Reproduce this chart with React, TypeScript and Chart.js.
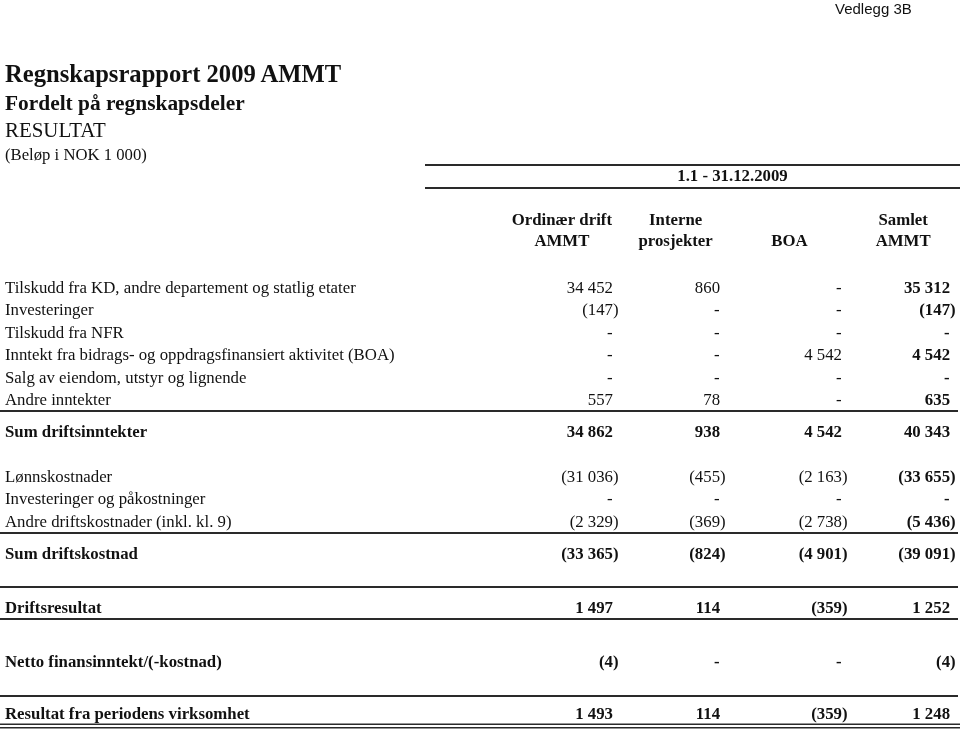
import React, { useEffect, useRef } from "react";
import { Chart, registerables } from "chart.js";

Chart.register(...registerables);

// ---------------- data ----------------
const APPENDIX = "Vedlegg 3B";
const REPORT_TITLE = "Regnskapsrapport 2009 AMMT";
const REPORT_SUBTITLE = "Fordelt på regnskapsdeler";
const STATEMENT_NAME = "RESULTAT";
const UNIT_NOTE = "(Beløp i NOK 1 000)";

const PERIOD_LABEL = "1.1 - 31.12.2009";
const COLUMN_HEADERS: string[][] = [
  ["Ordinær drift", "AMMT"],
  ["Interne", "prosjekter"],
  ["BOA"],
  ["Samlet", "AMMT"],
];

const ROW_LABELS: string[] = [
  "Tilskudd fra KD, andre departement og statlig etater",
  "Investeringer",
  "Tilskudd fra NFR",
  "Inntekt fra bidrags- og oppdragsfinansiert aktivitet (BOA)",
  "Salg av eiendom, utstyr og lignende",
  "Andre inntekter",
  "Sum driftsinntekter",
  "",
  "Lønnskostnader",
  "Investeringer og påkostninger",
  "Andre driftskostnader (inkl. kl. 9)",
  "Sum driftskostnad",
  "",
  "Driftsresultat",
  "",
  "Netto finansinntekt/(-kostnad)",
  "",
  "Resultat fra periodens virksomhet",
];

const ROW_KINDS: ("item" | "sum" | "blank")[] = [
  "item", "item", "item", "item", "item", "item", "sum", "blank",
  "item", "item", "item", "sum", "blank", "sum", "blank", "sum", "blank", "sum",
];

const ORDINAER_DRIFT: (number | null)[] = [
  34452, -147, 0, 0, 0, 557, 34862, null,
  -31036, 0, -2329, -33365, null, 1497, null, -4, null, 1493,
];
const INTERNE_PROSJEKTER: (number | null)[] = [
  860, 0, 0, 0, 0, 78, 938, null,
  -455, 0, -369, -824, null, 114, null, 0, null, 114,
];
const BOA_VALUES: (number | null)[] = [
  0, 0, 0, 4542, 0, 0, 4542, null,
  -2163, 0, -2738, -4901, null, -359, null, 0, null, -359,
];
const SAMLET_AMMT: (number | null)[] = [
  35312, -147, 0, 4542, 0, 635, 40343, null,
  -33655, 0, -5436, -39091, null, 1252, null, -4, null, 1248,
];
const COLUMN_VALUES = [ORDINAER_DRIFT, INTERNE_PROSJEKTER, BOA_VALUES, SAMLET_AMMT];

// ---------------- layout / style ----------------
const SERIF = '"Liberation Serif", "Times New Roman", serif';
const SANS = '"Liberation Sans", Arial, sans-serif';
const INK = "#111111";
const RULE = "#2a2a2a";
const W = 960;
const H = 731;
const FONT_SIZE = 16.8;
const AXIS_TOP = 165;
const HEADER_HEIGHT = 90.1;
const LABEL_COL_WIDTH = 500;
const ROW_HEIGHT = { item: 22.4, sum: 32, blank: 22.4 };
const TEXT_LIFT = 10.4;
const DOUBLE_BORDER_LIFT = 3;
const FIRST_ROW_GAP = 21.5;
const NUMBER_RIGHT_PAD = [51.1, 44.4, 52.6, 46.9];
const TOTAL_COLUMN = 3;
const HEADER_RULE_LEFT = 425;
const BODY_RULE_RIGHT = 958;
const TITLE_LINE_HEIGHT = 1.2;
const TITLE_PAD = { top: 1.4, bottom: 1 };
const ROW_BORDERS: Record<number, { top?: "single"; bottom?: "single" | "double" }> = {
  5: { bottom: "single" },
  10: { bottom: "single" },
  13: { top: "single", bottom: "single" },
  17: { top: "single", bottom: "double" },
};

const rowTops: number[] = [];
const rowBottoms: number[] = [];
let acc = 0;
ROW_KINDS.forEach((k) => {
  rowTops.push(acc);
  acc += ROW_HEIGHT[k];
  rowBottoms.push(acc);
});
const rowCenters = rowBottoms.map(
  (b, i) => b - TEXT_LIFT - (ROW_BORDERS[i]?.bottom === "double" ? DOUBLE_BORDER_LIFT : 0)
);
const filledRows = ROW_KINDS.map((_, i) => i).filter((i) => ROW_KINDS[i] !== "blank");

function formatCell(v: number): { text: string; hang: boolean } {
  if (v === 0) return { text: "-", hang: false };
  const s = String(Math.abs(v)).replace(/\B(?=(\d{3})+(?!\d))/g, " ");
  return v < 0 ? { text: "(" + s + ")", hang: true } : { text: s, hang: false };
}

const tablePlugin = {
  id: "tableCells",
  afterDraw(chart: any) {
    const ctx: CanvasRenderingContext2D = chart.ctx;
    const xs = chart.scales.x;
    const ys = chart.scales.y;
    ctx.save();
    ctx.fillStyle = INK;
    ctx.textBaseline = "middle";
    COLUMN_VALUES.forEach((values, c) => {
      const cx = xs.getPixelForValue(c);
      filledRows.forEach((row) => {
        const v = values[row];
        if (v == null) return;
        const cy = ys.getPixelForValue(rowCenters[row]);
        const bold = ROW_KINDS[row] === "sum" || c === TOTAL_COLUMN;
        ctx.font = `${bold ? "bold " : ""}${FONT_SIZE}px ${SERIF}`;
        const right = cx + NUMBER_RIGHT_PAD[c];
        const { text, hang } = formatCell(v);
        ctx.textAlign = "right";
        const shift = hang ? ctx.measureText(")").width : v === 0 ? -0.5 : 0;
        ctx.fillText(text, right + shift, cy);
      });
    });

    ctx.strokeStyle = RULE;
    const line = (x0: number, x1: number, y: number, w: number) => {
      ctx.lineWidth = w;
      ctx.beginPath();
      ctx.moveTo(x0, y);
      ctx.lineTo(x1, y);
      ctx.stroke();
    };
    const titleLH = FONT_SIZE * TITLE_LINE_HEIGHT;
    line(HEADER_RULE_LEFT, W, Math.round(xs.top), 2);
    line(HEADER_RULE_LEFT, W, Math.round(xs.top + titleLH + TITLE_PAD.top + TITLE_PAD.bottom), 2);

    Object.keys(ROW_BORDERS).forEach((key) => {
      const i = Number(key);
      const b = ROW_BORDERS[i];
      if (b.top) line(0, BODY_RULE_RIGHT, Math.round(ys.getPixelForValue(rowTops[i])), 2);
      if (b.bottom === "single") line(0, BODY_RULE_RIGHT, Math.round(ys.getPixelForValue(rowBottoms[i])), 2);
      if (b.bottom === "double") {
        const yb = Math.round(ys.getPixelForValue(rowBottoms[i]));
        line(0, W, yb - 3.75, 1.5);
        line(0, W, yb - 0.25, 1.5);
      }
    });
    ctx.restore();
  },
};

export default function App() {
  const ref = useRef<HTMLCanvasElement>(null);

  useEffect(() => {
    if (!ref.current) return;
    const yMin = -FIRST_ROW_GAP;
    const yMax = yMin + (H - AXIS_TOP - HEADER_HEIGHT);
    const chart = new Chart(ref.current, {
      type: "line",
      data: {
        labels: COLUMN_HEADERS as any,
        datasets: [],
      },
      options: {
        responsive: false,
        animation: false,
        devicePixelRatio: 1,
        events: [],
        layout: { padding: { top: AXIS_TOP, left: 5, right: 0, bottom: 0 } },
        plugins: {
          legend: { display: false },
          tooltip: { enabled: false },
          title: { display: false },
        },
        scales: {
          x: {
            type: "category",
            position: "top",
            offset: true,
            grid: { display: false, drawTicks: false },
            border: { display: false },
            ticks: {
              autoSkip: false,
              maxRotation: 0,
              minRotation: 0,
              padding: 3,
              color: INK,
              font: { family: SERIF, size: FONT_SIZE, weight: "bold", lineHeight: 21 / FONT_SIZE },
            },
            title: {
              display: true,
              text: PERIOD_LABEL,
              color: INK,
              font: { family: SERIF, size: FONT_SIZE, weight: "bold", lineHeight: TITLE_LINE_HEIGHT },
              padding: TITLE_PAD,
            },
            afterFit: (s: any) => {
              s.height = HEADER_HEIGHT;
              s.paddingLeft = 0;
              s.paddingRight = 0;
            },
          },
          y: {
            type: "linear",
            position: "left",
            reverse: true,
            min: yMin,
            max: yMax,
            grid: { display: false, drawTicks: false },
            border: { display: false },
            afterBuildTicks: (s: any) => {
              s.ticks = filledRows.map((i) => ({ value: rowCenters[i] }));
            },
            ticks: {
              autoSkip: false,
              crossAlign: "far",
              color: INK,
              callback: (_v: any, idx: number) => ROW_LABELS[filledRows[idx]],
              font: (ctx: any) => ({
                family: SERIF,
                size: FONT_SIZE,
                weight: ROW_KINDS[filledRows[ctx.index]] === "sum" ? "bold" : "normal",
              }),
            },
            afterFit: (s: any) => {
              s.width = LABEL_COL_WIDTH;
              s.paddingTop = 0;
              s.paddingBottom = 0;
            },
          },
        },
      } as any,
      plugins: [tablePlugin],
    });
    return () => chart.destroy();
  }, []);

  const serifTop = (baseline: number, size: number) => baseline - 0.8375 * size;
  const sansTop = (baseline: number, size: number) => baseline - 0.8465 * size;
  const txt = (
    text: string,
    left: number,
    top: number,
    size: number,
    bold: boolean,
    family: string
  ) => (
    <div
      key={text}
      style={{
        position: "absolute",
        left,
        top,
        fontFamily: family,
        fontSize: size,
        fontWeight: bold ? "bold" : "normal",
        lineHeight: `${size}px`,
        whiteSpace: "nowrap",
        color: INK,
      }}
    >
      {text}
    </div>
  );

  return (
    <div
      style={{
        position: "absolute",
        left: 0,
        top: 0,
        width: W,
        height: H,
        background: "#ffffff",
        overflow: "hidden",
      }}
    >
      <canvas
        ref={ref}
        width={W}
        height={H}
        style={{ position: "absolute", left: 0, top: 0, width: W, height: H }}
      />
      {txt(APPENDIX, 835, sansTop(14, 15), 15, false, SANS)}
      {txt(REPORT_TITLE, 5, serifTop(82.7, 24.6), 24.6, true, SERIF)}
      {txt(REPORT_SUBTITLE, 5, serifTop(111, 21.4), 21.4, true, SERIF)}
      {txt(STATEMENT_NAME, 5, serifTop(137.7, 20.9), 20.9, false, SERIF)}
      {txt(UNIT_NOTE, 5, serifTop(161, 16.7), 16.7, false, SERIF)}
    </div>
  );
}
